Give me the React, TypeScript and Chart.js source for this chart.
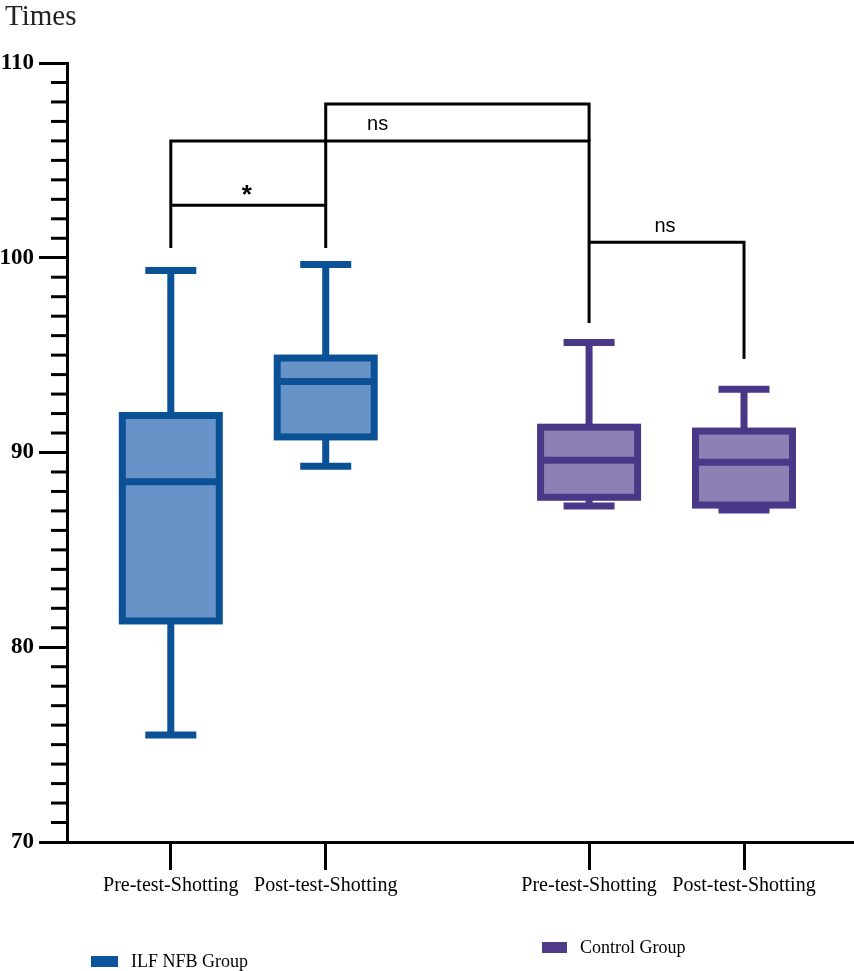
import { useEffect, useRef } from 'react'
import { Chart, registerables } from 'chart.js'

Chart.register(...registerables)

// Box plot data
const categories = ['Pre-test-Shotting', 'Post-test-Shotting', 'Pre-test-Shotting', 'Post-test-Shotting']
const positions = [1, 2, 3.7, 4.7]
const groups = ['ILF NFB Group', 'ILF NFB Group', 'Control Group', 'Control Group']
const whiskerMin = [75.5, 89.3, 87.25, 87.05]
const q1 = [81.35, 90.8, 87.7, 87.3]
const median = [88.5, 93.65, 89.6, 89.5]
const q3 = [91.9, 94.85, 91.3, 91.1]
const whiskerMax = [99.35, 99.65, 95.65, 93.25]
const yTicks = [70, 80, 90, 100, 110]

// significance brackets, polylines in data units (x position, y value)
const brackets: number[][][] = [
  [[1, 100.5], [1, 106], [3.7, 106], [3.7, 96.65]],
  [[1, 102.7], [2, 102.7], [2, 100.5]],
  [[2, 102.7], [2, 107.9], [3.7, 107.9], [3.7, 106]],
  [[3.7, 100.8], [4.7, 100.8], [4.7, 94.8]],
]
const bracketLabels = [
  { text: '*', x: 1.49, y: 102.8, font: 'bold 26px "Liberation Sans"' },
  { text: 'ns', x: 2.335, y: 106.56, font: '20px "Liberation Sans"' },
  { text: 'ns', x: 4.19, y: 101.3, font: '20px "Liberation Sans"' },
]

const colors: Record<string, { border: string; fill: string }> = {
  'ILF NFB Group': { border: '#0b5196', fill: '#6893c8' },
  'Control Group': { border: '#4b3787', fill: '#8d80b5' },
}

const BOX_W = 97
const CAP_W = 51
const LINE_W = 7

const boxPlugin = {
  id: 'boxes',
  afterDatasetsDraw(chart: Chart) {
    const { ctx, chartArea } = chart
    const x = chart.scales.x
    const y = chart.scales.y
    ctx.save()

    // minor ticks on y axis
    ctx.strokeStyle = '#000'
    ctx.lineWidth = 3
    for (let v = 71; v < 110; v++) {
      if (v % 10 === 0) continue
      const py = y.getPixelForValue(v)
      ctx.beginPath()
      ctx.moveTo(chartArea.left - 16, py)
      ctx.lineTo(chartArea.left, py)
      ctx.stroke()
    }

    // boxes and whiskers
    positions.forEach((pos, i) => {
      const c = colors[groups[i]]
      const px = x.getPixelForValue(pos)
      const yMin = y.getPixelForValue(whiskerMin[i])
      const yQ1 = y.getPixelForValue(q1[i])
      const yMed = y.getPixelForValue(median[i])
      const yQ3 = y.getPixelForValue(q3[i])
      const yMax = y.getPixelForValue(whiskerMax[i])
      ctx.strokeStyle = c.border
      ctx.lineWidth = LINE_W
      ctx.lineCap = 'butt'
      ctx.beginPath()
      ctx.moveTo(px, yQ3)
      ctx.lineTo(px, yMax)
      ctx.moveTo(px - CAP_W / 2, yMax)
      ctx.lineTo(px + CAP_W / 2, yMax)
      ctx.moveTo(px, yQ1)
      ctx.lineTo(px, yMin)
      ctx.moveTo(px - CAP_W / 2, yMin)
      ctx.lineTo(px + CAP_W / 2, yMin)
      ctx.stroke()
      ctx.fillStyle = c.fill
      ctx.fillRect(px - BOX_W / 2, yQ3, BOX_W, yQ1 - yQ3)
      ctx.strokeRect(px - BOX_W / 2, yQ3, BOX_W, yQ1 - yQ3)
      ctx.beginPath()
      ctx.moveTo(px - BOX_W / 2, yMed)
      ctx.lineTo(px + BOX_W / 2, yMed)
      ctx.stroke()
    })

    // significance brackets
    ctx.strokeStyle = '#000'
    ctx.lineWidth = 3
    ctx.lineJoin = 'miter'
    brackets.forEach((pts) => {
      ctx.beginPath()
      pts.forEach(([bx, by], k) => {
        const px = x.getPixelForValue(bx)
        const py = y.getPixelForValue(by)
        if (k === 0) ctx.moveTo(px, py)
        else ctx.lineTo(px, py)
      })
      ctx.stroke()
    })
    ctx.fillStyle = '#000'
    ctx.textAlign = 'center'
    ctx.textBaseline = 'alphabetic'
    bracketLabels.forEach((l) => {
      ctx.font = l.font
      ctx.fillText(l.text, x.getPixelForValue(l.x), y.getPixelForValue(l.y))
    })

    // axis title
    ctx.textAlign = 'left'
    ctx.font = '29px "Liberation Serif"'
    ctx.fillStyle = '#222'
    ctx.fillText('Times', 5, 25)

    // legend
    ctx.font = '18px "Liberation Serif"'
    ctx.fillStyle = '#0b559d'
    ctx.fillRect(91, 956, 27, 11)
    ctx.fillStyle = '#000'
    ctx.fillText('ILF NFB Group', 131, 967)
    ctx.fillStyle = '#4f3a8c'
    ctx.fillRect(542, 942, 25, 11)
    ctx.fillStyle = '#000'
    ctx.fillText('Control Group', 580, 953)

    ctx.restore()
  },
}

export default function App() {
  const canvasRef = useRef<HTMLCanvasElement | null>(null)
  const chartRef = useRef<Chart | null>(null)

  useEffect(() => {
    document.body.style.margin = '0'
    const ctx = canvasRef.current?.getContext('2d')
    if (!ctx) return

    chartRef.current = new Chart(ctx, {
      type: 'scatter',
      data: {
        datasets: [
          {
            label: 'median',
            data: positions.map((p, i) => ({ x: p, y: median[i] })),
            pointRadius: 0,
          },
        ],
      },
      options: {
        animation: false,
        responsive: true,
        maintainAspectRatio: false,
        layout: { padding: { top: 63, left: 0, right: 0, bottom: 0 } },
        plugins: {
          legend: { display: false },
          tooltip: { enabled: false },
        },
        scales: {
          x: {
            type: 'linear',
            min: 0.33,
            max: 5.41,
            afterBuildTicks: (s: any) => {
              s.ticks = positions.map((v) => ({ value: v }))
            },
            afterFit: (s: any) => {
              s.height = 129
            },
            grid: { drawOnChartArea: false, tickLength: 28, tickWidth: 3, color: '#000' },
            border: { width: 3, color: '#000' },
            ticks: {
              autoSkip: false,
              maxRotation: 0,
              padding: 4,
              color: '#000',
              font: { family: 'Liberation Serif', size: 20 },
              callback: (v: any) => categories[positions.indexOf(Number(v))] ?? '',
            },
          },
          y: {
            min: 70,
            max: 110,
            afterBuildTicks: (s: any) => {
              s.ticks = yTicks.map((v) => ({ value: v }))
            },
            afterFit: (s: any) => {
              s.width = 67
            },
            grid: { drawOnChartArea: false, tickLength: 28, tickWidth: 3, color: '#000' },
            border: { width: 3, color: '#000' },
            ticks: {
              padding: 5,
              color: '#000',
              font: { family: 'Liberation Serif', size: 23, weight: 'bold' },
            },
          },
        },
      },
      plugins: [boxPlugin],
    })

    return () => {
      chartRef.current?.destroy()
      chartRef.current = null
    }
  }, [])

  return (
    <div style={{ position: 'relative', width: 854, height: 971 }}>
      <canvas ref={canvasRef} />
    </div>
  )
}
